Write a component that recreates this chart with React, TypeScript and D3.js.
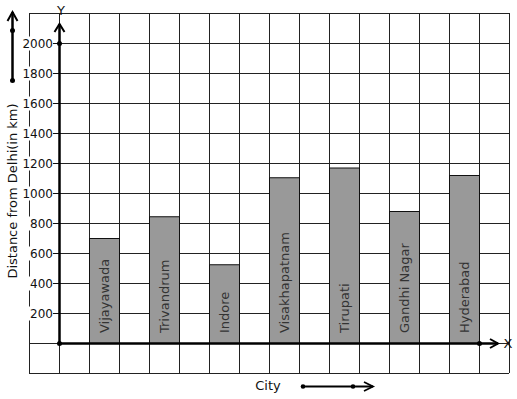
import { useEffect, useRef } from "react";
import * as d3 from "d3";

// Data
const cities = [
  "Vijayawada",
  "Trivandrum",
  "Indore",
  "Visakhapatnam",
  "Tirupati",
  "Gandhi Nagar",
  "Hyderabad",
];
const distances = [700, 845, 525, 1105, 1170, 880, 1120];
const yTicks = [200, 400, 600, 800, 1000, 1200, 1400, 1600, 1800, 2000];

const App = () => {
  const svgRef = useRef<SVGSVGElement | null>(null);

  useEffect(() => {
    const width = 517;
    const height = 399;
    const font = "DejaVu Sans, sans-serif";

    const svg = d3.select(svgRef.current).attr("width", width).attr("height", height);
    svg.selectAll("*").remove();

    // Scales
    const yScale = d3.scaleLinear().domain([-200, 2200]).range([373, 13]);
    const xScale = d3
      .scaleBand<string>()
      .domain(cities)
      .range([59, 509])
      .paddingInner(0.5)
      .paddingOuter(0.5);

    const gridLeft = 29;
    const gridRight = 509;
    const x0 = 59;
    const y0 = yScale(0);

    svg.append("rect").attr("width", width).attr("height", height).attr("fill", "#fff");

    // Grid
    const grid = svg.append("g").attr("stroke", "#222").attr("stroke-width", 1);
    d3.range(-200, 2201, 200).forEach((v) => {
      grid
        .append("line")
        .attr("x1", gridLeft)
        .attr("x2", gridRight)
        .attr("y1", yScale(v) + 0.5)
        .attr("y2", yScale(v) + 0.5);
    });
    d3.range(gridLeft, gridRight + 1, 30).forEach((gx) => {
      grid
        .append("line")
        .attr("x1", gx + 0.5)
        .attr("x2", gx + 0.5)
        .attr("y1", yScale(2200))
        .attr("y2", yScale(-200));
    });

    // Bars
    svg
      .selectAll(".bar")
      .data(cities)
      .enter()
      .append("rect")
      .attr("class", "bar")
      .attr("x", (d) => (xScale(d) as number) + 0.5)
      .attr("y", (d, i) => yScale(distances[i]) + 0.5)
      .attr("width", xScale.bandwidth())
      .attr("height", (d, i) => y0 - yScale(distances[i]))
      .attr("fill", "#999999")
      .attr("stroke", "#111")
      .attr("stroke-width", 1);

    // Bar labels
    svg
      .selectAll(".bar-label")
      .data(cities)
      .enter()
      .append("text")
      .attr("class", "bar-label")
      .attr(
        "transform",
        (d) => `translate(${(xScale(d) as number) + xScale.bandwidth() / 2 + 5},${y0 - 10}) rotate(-90)`
      )
      .attr("font-family", font)
      .attr("font-size", 13)
      .attr("fill", "#333")
      .text((d) => d);

    // Y tick labels with white background
    yTicks.forEach((t) => {
      const ty = yScale(t) + 0.5;
      svg
        .append("rect")
        .attr("x", 20)
        .attr("y", ty - 7)
        .attr("width", 34)
        .attr("height", 14)
        .attr("fill", "#fff");
      svg
        .append("text")
        .attr("x", 53)
        .attr("y", ty + 4.5)
        .attr("text-anchor", "end")
        .attr("font-family", font)
        .attr("font-size", 12)
        .attr("fill", "#111")
        .text(t);
      svg
        .append("line")
        .attr("x1", 53)
        .attr("x2", x0)
        .attr("y1", ty)
        .attr("y2", ty)
        .attr("stroke", "#111")
        .attr("stroke-width", 1);
    });

    // Axes
    const axisStroke = "#000";
    svg
      .append("line")
      .attr("x1", x0 + 0.5)
      .attr("x2", x0 + 0.5)
      .attr("y1", y0)
      .attr("y2", 24)
      .attr("stroke", axisStroke)
      .attr("stroke-width", 2.5);
    svg
      .append("path")
      .attr("d", `M${x0 - 4.5},${32} L${x0 + 0.5},${24} L${x0 + 5.5},${32}`)
      .attr("fill", "none")
      .attr("stroke", axisStroke)
      .attr("stroke-width", 2);

    svg
      .append("line")
      .attr("x1", x0)
      .attr("x2", 498)
      .attr("y1", y0 + 0.5)
      .attr("y2", y0 + 0.5)
      .attr("stroke", axisStroke)
      .attr("stroke-width", 2.5);
    svg
      .append("path")
      .attr("d", `M${490},${y0 - 4} L${498},${y0 + 0.5} L${490},${y0 + 5}`)
      .attr("fill", "none")
      .attr("stroke", axisStroke)
      .attr("stroke-width", 2);

    // Axis dots
    [
      [x0 + 0.5, y0 + 0.5],
      [x0 + 0.5, yScale(2000) + 0.5],
      [479.5, y0 + 0.5],
    ].forEach(([cx, cy]) => {
      svg.append("circle").attr("cx", cx).attr("cy", cy).attr("r", 2.5).attr("fill", "#000");
    });

    // Axis letters
    svg
      .append("text")
      .attr("x", 61)
      .attr("y", 15)
      .attr("text-anchor", "middle")
      .attr("font-family", font)
      .attr("font-size", 13)
      .attr("fill", "#111")
      .text("Y");
    svg
      .append("text")
      .attr("x", 508)
      .attr("y", y0 + 5)
      .attr("text-anchor", "middle")
      .attr("font-family", font)
      .attr("font-size", 13)
      .attr("fill", "#111")
      .text("X");

    // Axis titles
    svg
      .append("text")
      .attr("transform", `translate(17,${191}) rotate(-90)`)
      .attr("text-anchor", "middle")
      .attr("font-family", font)
      .attr("font-size", 13)
      .attr("fill", "#111")
      .text("Distance from Delhi(in km)");
    svg
      .append("text")
      .attr("x", 268)
      .attr("y", 390)
      .attr("text-anchor", "middle")
      .attr("font-family", font)
      .attr("font-size", 13)
      .attr("fill", "#111")
      .text("City");

    // Decorative arrows
    svg
      .append("line")
      .attr("x1", 12.5)
      .attr("x2", 12.5)
      .attr("y1", 80)
      .attr("y2", 12)
      .attr("stroke", "#000")
      .attr("stroke-width", 2.5);
    svg
      .append("path")
      .attr("d", "M7.5,21 L12.5,12 L17.5,21")
      .attr("fill", "none")
      .attr("stroke", "#000")
      .attr("stroke-width", 2);
    svg.append("circle").attr("cx", 12.5).attr("cy", 30.5).attr("r", 2.5).attr("fill", "#000");
    svg.append("circle").attr("cx", 12.5).attr("cy", 80.5).attr("r", 2.5).attr("fill", "#000");

    svg
      .append("line")
      .attr("x1", 303)
      .attr("x2", 373)
      .attr("y1", 386.5)
      .attr("y2", 386.5)
      .attr("stroke", "#000")
      .attr("stroke-width", 2);
    svg
      .append("path")
      .attr("d", "M364,382 L373,386.5 L364,391")
      .attr("fill", "none")
      .attr("stroke", "#000")
      .attr("stroke-width", 1.8);
    svg.append("circle").attr("cx", 303).attr("cy", 386.5).attr("r", 2.3).attr("fill", "#000");
    svg.append("circle").attr("cx", 353).attr("cy", 386.5).attr("r", 2.3).attr("fill", "#000");
  }, []);

  return (
    <svg
      ref={svgRef}
      style={{ position: "absolute", left: 0, top: 0, display: "block" }}
    ></svg>
  );
};

export default App;
